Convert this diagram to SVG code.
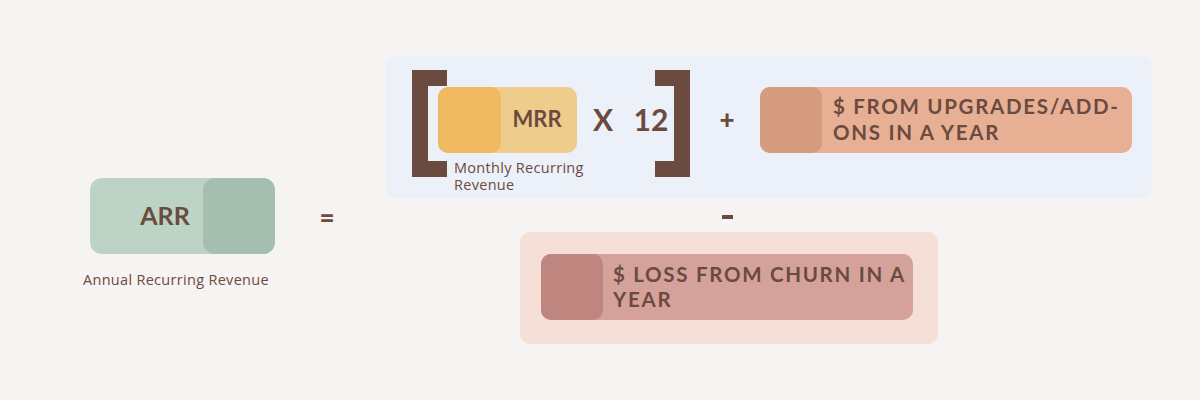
<svg xmlns="http://www.w3.org/2000/svg" width="1200" height="400" viewBox="0 0 1200 400">
<style>
.t{fill:#6b4a40;font-family:Lato,"Liberation Sans",sans-serif;font-weight:700}
.w{fill:#6b4a40;font-family:Lato,"Liberation Sans",sans-serif;font-weight:700;font-size:20.5px;letter-spacing:1.7px}
.s{fill:#6b4a40;font-family:"Open Sans","Liberation Sans",sans-serif;font-size:14.5px;letter-spacing:0.3px}
.op{fill:#6b4a40;font-family:Lato,"Liberation Sans",sans-serif;font-weight:900;font-size:26px}
.br{fill:#6b4a40}
</style>
<rect width="1200" height="400" fill="#f6f4f2"/>
<g id="panel-add">
<rect x="386" y="56" width="766" height="142" rx="10" fill="#ecf0f8"/>
</g>
<g id="panel-churn">
<rect x="520" y="232" width="418" height="112" rx="10" fill="#f6dfd6"/>
</g>
<g id="arr">
<rect x="90" y="178" width="185" height="76" rx="12" fill="#bcd3c5"/>
<rect x="203" y="178" width="72" height="76" rx="12" fill="#a5beaf"/>
<text class="t" x="165" y="225" font-size="25" text-anchor="middle">ARR</text>
<text class="s" x="83" y="285">Annual Recurring Revenue</text>
</g>
<g id="operators">
<text class="op" x="327" y="227" text-anchor="middle">=</text>
<text class="op" x="727" y="129" text-anchor="middle">+</text>
<rect x="722" y="215" width="11" height="4" fill="#6b4a40"/>
</g>
<g id="bracket-left">
<path class="br" d="M412 70H447V86H428V161H447V177H412Z"/>
</g>
<g id="bracket-right">
<path class="br" d="M690 70H655V86H674V161H655V177H690Z"/>
</g>
<g id="mrr">
<rect x="438" y="87" width="139" height="66" rx="10" fill="#eecd8c"/>
<rect x="438" y="87" width="63" height="66" rx="10" fill="#efb961"/>
<text class="t" x="537" y="127" font-size="22" text-anchor="middle">MRR</text>
<text class="s" x="454" y="173">Monthly Recurring</text>
<text class="s" x="454" y="190">Revenue</text>
</g>
<g id="times12">
<text class="t" x="603" y="131" font-size="30" text-anchor="middle">X</text>
<text class="t" x="651" y="131" font-size="30" text-anchor="middle">12</text>
</g>
<g id="upgrades">
<rect x="760" y="87" width="372" height="66" rx="10" fill="#e7b095"/>
<rect x="760" y="87" width="62" height="66" rx="10" fill="#d69c80"/>
<text class="w" x="833" y="114">$ FROM UPGRADES/ADD-</text>
<text class="w" x="833" y="140">ONS IN A YEAR</text>
</g>
<g id="churn">
<rect x="541" y="254" width="372" height="66" rx="10" fill="#d4a19b"/>
<rect x="541" y="254" width="62" height="66" rx="10" fill="#bf8680"/>
<text class="w" x="613" y="282">$ LOSS FROM CHURN IN A</text>
<text class="w" x="613" y="307">YEAR</text>
</g>
<g id="connectors"/>
</svg>
